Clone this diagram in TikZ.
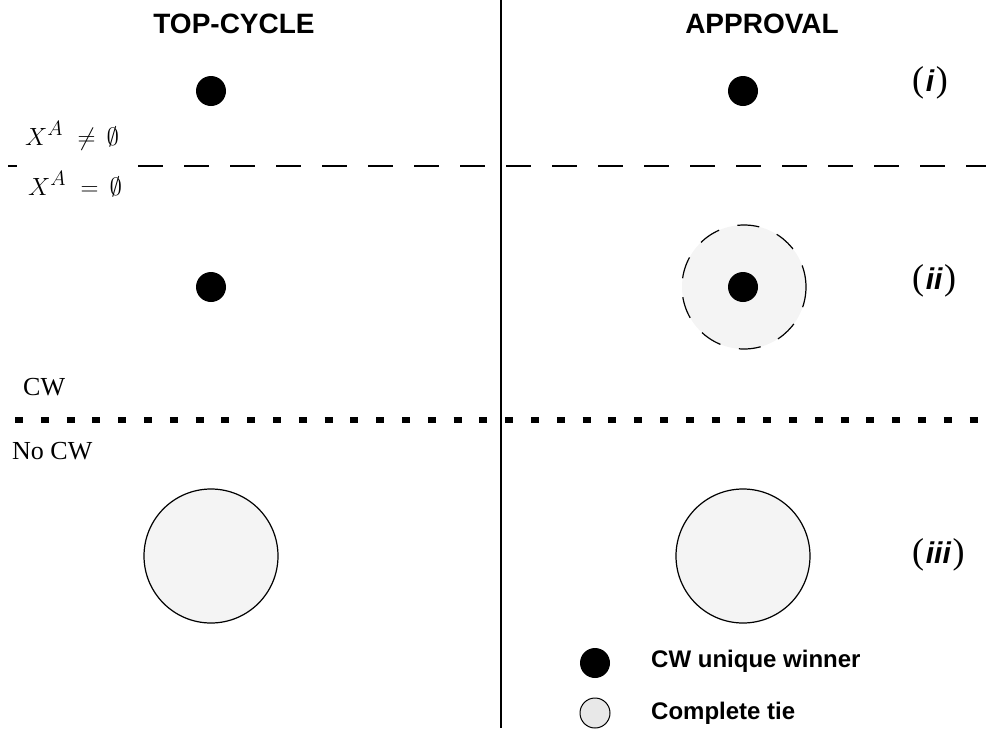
\documentclass[tikz,border=0pt]{standalone}
\usepackage{fontspec}
\setmainfont{Liberation Serif}
\setsansfont{Liberation Sans}
\definecolor{tiegray}{HTML}{F4F4F4}
\definecolor{legendgray}{HTML}{E8E8E8}
\begin{document}
\begin{tikzpicture}[x=1pt,y=-1pt,
  head/.style={font=\sffamily\bfseries\fontsize{28}{34}\selectfont, inner sep=0, anchor=base},
  lbl/.style={font=\fontsize{26}{31}\selectfont, inner sep=0, anchor=base west},
  mlbl/.style={font=\fontsize{29}{34}\selectfont, inner sep=0, anchor=base west},
  winner/.style={circle, fill=black, minimum size=30pt, inner sep=0},
  tie/.style={circle, draw, line width=1.2pt, fill=tiegray, minimum size=134pt, inner sep=0},
  case/.style={inner sep=0, anchor=west},
  legend/.style={font=\sffamily\bfseries\fontsize{24}{29}\selectfont, inner sep=0, anchor=base west},
  sepline/.style={line width=1.3pt, dash pattern=on 25pt off 21pt},
  cwline/.style={line width=5.5pt, dash pattern=on 8pt off 17.8pt}
]
\newcommand{\caselbl}[1]{{\fontsize{36}{40}\selectfont(}\,{\sffamily\bfseries\itshape\fontsize{30}{36}\selectfont #1}\,{\fontsize{36}{40}\selectfont)}}
\useasboundingbox (0,0) rectangle (986,732);

% separators
\coordinate (vt) at (501,0);
\coordinate (vb) at (501,728);
\draw[line width=1.5pt] (vt) -- (vb);
\coordinate (dl) at (0,166);
\coordinate (dr) at (986,166);
\draw[sepline] (dl) -- (dr);
\fill[white] (0,161) rectangle (8,171);
\fill[white] (17,161) rectangle (137,171);
\coordinate (cl) at (15,420);
\coordinate (cr) at (986,420);
\draw[cwline] (cl) -- (cr);

% headers
\node[head] (htc) at (234,33) {TOP-CYCLE};
\node[head] (hap) at (762,33) {APPROVAL};

% row labels
\node[mlbl] (ne) at (25,145) {$X^{A\,}\mathrel{\,\neq\,}\emptyset$};
\node[mlbl] (eq) at (28,195) {$X^{A\,}\mathrel{\,=\,}\emptyset$};
\node[lbl] (cw) at (23,395) {CW};
\node[lbl] (nocw) at (12,459) {No CW};

% case labels
\node[case] (ci) at (912,83) {\caselbl{i}};
\node[case] (cii) at (912,281) {\caselbl{ii}};
\node[case] (ciii) at (912,555) {\caselbl{iii}};

% row (i)
\node[winner] (w1l) at (211,91) {};
\node[winner] (w1r) at (743,91) {};

% row (ii)
\node[winner] (w2l) at (211,287) {};
\node[circle, fill=tiegray, draw, line width=1.2pt, dash pattern=on 22pt off 19pt, minimum size=124pt, inner sep=0] (t2r) at (744,287) {};
\node[winner] (w2r) at (743,287) {};

% row (iii)
\node[tie] (t3l) at (211,556) {};
\node[tie] (t3r) at (743,556) {};

% legend
\node[winner] (lgw) at (595,663) {};
\node[circle, draw, line width=1pt, fill=legendgray, minimum size=30pt, inner sep=0] (lgt) at (595,713) {};
\node[legend] (lgwt) at (651,667) {CW unique winner};
\node[legend] (lgtt) at (651,719) {Complete tie};
\end{tikzpicture}
\end{document}
